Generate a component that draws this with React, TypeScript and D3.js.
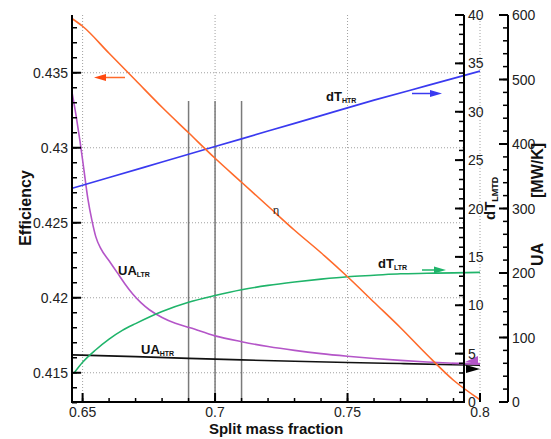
import * as d3 from "d3";

const W = 551;
const H = 439;

// tick values
const xTicks = [0.65, 0.7, 0.75, 0.8];
const effTicks = [0.415, 0.42, 0.425, 0.43, 0.435];
const dtTicks = [0, 5, 10, 15, 20, 25, 30, 35, 40];
const uaTicks = [0, 100, 200, 300, 400, 500, 600];
const markers = [0.69, 0.7, 0.71];

// efficiency (left axis)
const eta: [number, number][] = [
  [0.6461, 0.4386], [0.65, 0.4381], [0.66, 0.4363], [0.67, 0.4345], [0.68, 0.4327],
  [0.69, 0.431], [0.7, 0.4293], [0.71, 0.4277], [0.72, 0.4261], [0.73, 0.4245],
  [0.74, 0.423], [0.75, 0.4214], [0.76, 0.4197], [0.77, 0.418], [0.78, 0.4162],
  [0.79, 0.4145], [0.8, 0.4132],
];

// dT (dT_LMTD axis)
const dtHTR: [number, number][] = [
  [0.6461, 22.1], [0.66, 23.2], [0.68, 24.8], [0.7, 26.4], [0.72, 28.0],
  [0.74, 29.6], [0.76, 31.2], [0.78, 32.7], [0.8, 34.2],
];
const dtLTR: [number, number][] = [
  [0.6468, 3.0], [0.65, 4.1], [0.655, 5.4], [0.66, 6.5], [0.665, 7.4],
  [0.67, 8.1], [0.68, 9.35], [0.69, 10.3], [0.7, 11.0], [0.71, 11.6],
  [0.72, 12.05], [0.73, 12.4], [0.74, 12.7], [0.75, 12.95], [0.76, 13.1],
  [0.77, 13.25], [0.78, 13.3], [0.79, 13.35], [0.8, 13.4],
];

// UA (UA axis)
const uaLTR: [number, number][] = [
  [0.6461, 478], [0.6475, 445], [0.649, 405], [0.6505, 360], [0.652, 315],
  [0.6535, 282], [0.655, 256], [0.657, 237], [0.66, 219], [0.663, 201],
  [0.666, 183], [0.669, 167], [0.672, 154], [0.6752, 143], [0.68, 131],
  [0.685, 122], [0.6906, 115], [0.7, 102.5], [0.71, 93.5], [0.72, 86],
  [0.73, 80], [0.74, 75], [0.75, 71], [0.76, 67.5], [0.77, 64.5],
  [0.78, 62], [0.79, 60], [0.8, 58.5],
];
const uaHTR: [number, number][] = [
  [0.6461, 73], [0.67, 70.3], [0.69, 67.7], [0.71, 65.3], [0.73, 63.2],
  [0.75, 61.3], [0.77, 59.6], [0.79, 57.8], [0.8, 57],
];

const font = "'Liberation Sans', Arial, sans-serif";

export default function App() {
  const left = 72, bottom = 402, top = 15, dtX = 464, uaX = 508;

  const x = d3.scaleLinear().domain([0.646, 0.8]).range([left, 480]);
  const yE = d3.scaleLinear().domain([0.41305, 0.43885]).range([bottom, top]);
  const yT = d3.scaleLinear().domain([0, 40]).range([bottom, top]);
  const yU = d3.scaleLinear().domain([0, 600]).range([bottom, top]);

  const mk = (y: d3.ScaleLinear<number, number>) =>
    d3.line<[number, number]>()
      .x(d => x(d[0]))
      .y(d => y(d[1]))
      .curve(d3.curveMonotoneX);

  const effMinor = d3.range(413, 439).map(v => v / 1000);
  const xMinor = d3.range(65, 81).map(v => v / 100);
  const dtMinor = d3.range(0, 41);
  const uaMinor = d3.range(0, 601, 20);

  const tickStyle = { stroke: "#000", strokeWidth: 1.5 };
  const grid = { stroke: "#a0a0a0", strokeWidth: 1, strokeDasharray: "1,2" };
  const lbl = { fontFamily: font, fontSize: 14, fill: "#222" };

  const arrowR = (x0: number, x1: number, y: number, c: string) => (
    <g>
      <line x1={x0} x2={x1 - 10} y1={y} y2={y} stroke={c} strokeWidth={1.5} />
      <path d={`M${x1},${y} L${x1 - 12},${y - 3.5} L${x1 - 12},${y + 3.5} Z`} fill={c} />
    </g>
  );

  return (
    <svg width={W} height={H} style={{ position: "absolute", left: 0, top: 0, background: "#fff" }}>
      {/* grid */}
      {effTicks.map(t => (
        <line key={"ge" + t} x1={left} x2={dtX} y1={yE(t)} y2={yE(t)} {...grid} />
      ))}
      {xTicks.map(t => (
        <line key={"gx" + t} x1={x(t)} x2={x(t)} y1={top} y2={bottom} {...grid} />
      ))}

      {/* marker lines */}
      {markers.map(m => (
        <line key={"m" + m} x1={x(m)} x2={x(m)} y1={101} y2={bottom} stroke="#7a7a7a" strokeWidth={1.5} />
      ))}

      {/* curves */}
      <path d={mk(yU)(uaHTR)!} fill="none" stroke="#111" strokeWidth={1.6} />
      <path d={mk(yU)(uaLTR)!} fill="none" stroke="#b455c8" strokeWidth={1.6} />
      <path d={mk(yT)(dtLTR)!} fill="none" stroke="#1fb46a" strokeWidth={1.6} />
      <path d={mk(yT)(dtHTR)!} fill="none" stroke="#3a3af0" strokeWidth={1.6} />
      <path d={mk(yE)(eta)!} fill="none" stroke="#ff6a2a" strokeWidth={1.6} />

      {/* curve arrows */}
      <g>
        <line x1={125} x2={104} y1={77.5} y2={77.5} stroke="#ff6a2a" strokeWidth={1.5} />
        <path d="M94,77.5 L106,74 L106,81 Z" fill="#ff4a10" />
      </g>
      {arrowR(412, 442, 93.5, "#3a3af0")}
      {arrowR(422, 446, 270, "#1fb46a")}
      <path d="M465,362 L478,356 L478,364 Z" fill="#b455c8" />
      <line x1={452} x2={480} y1={363.5} y2={363.5} stroke="#b455c8" strokeWidth={1.5} />
      <path d="M466,365 L466,373 L480,369 Z" fill="#000" />

      {/* curve labels */}
      <g fontFamily={font} fontWeight="bold" fill="#111">
        <text x={118} y={275} fontSize={13}>UA<tspan fontSize={7} dy={2}>LTR</tspan></text>
        <text x={141} y={354} fontSize={13}>UA<tspan fontSize={7} dy={2}>HTR</tspan></text>
        <text x={326} y={101} fontSize={13}>dT<tspan fontSize={7} dy={2}>HTR</tspan></text>
        <text x={378} y={268} fontSize={13}>dT<tspan fontSize={7} dy={2}>LTR</tspan></text>
      </g>
      <text x={273} y={214} fontFamily={font} fontSize={11} fill="#222">η</text>

      {/* left axis */}
      <line x1={left} x2={left} y1={top} y2={bottom + 1} stroke="#000" strokeWidth={2} />
      {effMinor.map(t => (
        <line key={"em" + t} x1={left} x2={left + 5} y1={yE(t)} y2={yE(t)} {...tickStyle} />
      ))}
      {effTicks.map(t => (
        <g key={"et" + t}>
          <line x1={left} x2={left + 9} y1={yE(t)} y2={yE(t)} stroke="#000" strokeWidth={2} />
          <text x={68} y={yE(t) + 5} textAnchor="end" {...lbl}>{d3.format("")(t)}</text>
        </g>
      ))}

      {/* bottom axis */}
      <line x1={left - 1} x2={dtX + 1} y1={bottom} y2={bottom} stroke="#000" strokeWidth={2} />
      {xMinor.map(t => (
        <line key={"xm" + t} x1={x(t)} x2={x(t)} y1={bottom} y2={bottom - 4} {...tickStyle} />
      ))}
      {xTicks.map(t => (
        <g key={"xt" + t}>
          <line x1={x(t)} x2={x(t)} y1={bottom} y2={bottom - 9} stroke="#000" strokeWidth={2} />
          <text x={x(t)} y={417} textAnchor="middle" {...lbl}>{d3.format("")(t)}</text>
        </g>
      ))}

      {/* dT axis */}
      <line x1={dtX} x2={dtX} y1={top} y2={bottom} stroke="#000" strokeWidth={2} />
      {dtMinor.map(t => (
        <line key={"dm" + t} x1={dtX} x2={dtX - 5} y1={yT(t)} y2={yT(t)} {...tickStyle} />
      ))}
      {dtTicks.map(t => (
        <g key={"dt" + t}>
          <line x1={dtX} x2={dtX - 9} y1={yT(t)} y2={yT(t)} stroke="#000" strokeWidth={2} />
          <text x={468} y={yT(t) + 5} {...lbl}>{t}</text>
        </g>
      ))}

      {/* UA axis */}
      <line x1={uaX} x2={uaX} y1={top} y2={bottom} stroke="#000" strokeWidth={2} />
      {uaMinor.map(t => (
        <line key={"um" + t} x1={uaX} x2={uaX - 5} y1={yU(t)} y2={yU(t)} {...tickStyle} />
      ))}
      {uaTicks.map(t => (
        <g key={"ut" + t}>
          <line x1={uaX} x2={uaX - 9} y1={yU(t)} y2={yU(t)} stroke="#000" strokeWidth={2} />
          <text x={512} y={yU(t) + 5} {...lbl}>{t}</text>
        </g>
      ))}

      {/* axis titles */}
      <g fontFamily={font} fontWeight="bold" fill="#111">
        <text transform="translate(31,208) rotate(-90)" textAnchor="middle" fontSize={16}>Efficiency</text>
        <text x={276} y={434} textAnchor="middle" fontSize={15}>Split mass fraction</text>
        <text transform="translate(495,220) rotate(-90)" fontSize={15}>
          dT<tspan fontSize={9} dy={3}>LMTD</tspan>
        </text>
        <text transform="translate(543,266) rotate(-90)" fontSize={16}>UA</text>
        <text transform="translate(543,198) rotate(-90)" fontSize={16}>[MW/K]</text>
      </g>
    </svg>
  );
}
